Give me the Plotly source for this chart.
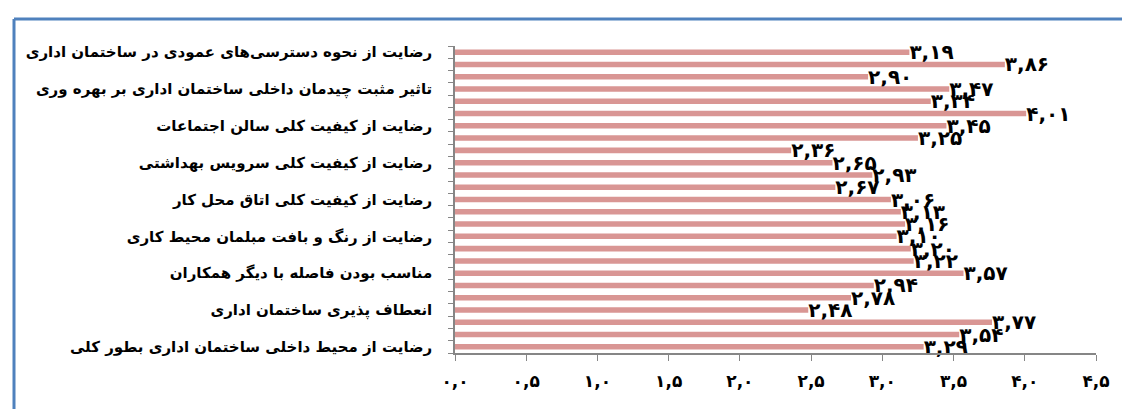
import plotly.graph_objects as go

# Category labels (shown on every third bar, top to bottom)
labels = [
    "رضایت از نحوه دسترسی‌های عمودی در ساختمان اداری",
    "تاثیر مثبت چیدمان داخلی ساختمان اداری بر بهره وری",
    "رضایت از کیفیت کلی سالن اجتماعات",
    "رضایت از کیفیت کلی سرویس بهداشتی",
    "رضایت از کیفیت کلی اتاق محل کار",
    "رضایت از رنگ و بافت مبلمان محیط کاری",
    "مناسب بودن فاصله با دیگر همکاران",
    "انعطاف پذیری ساختمان اداری",
    "رضایت از محیط داخلی ساختمان اداری بطور کلی",
]
label_every = 3

# Bar values, top to bottom
values = [3.19, 3.86, 2.90, 3.47, 3.34, 4.01, 3.45, 3.25, 2.36, 2.65,
          2.93, 2.67, 3.06, 3.13, 3.16, 3.10, 3.20, 3.22, 3.57, 2.94,
          2.78, 2.48, 3.77, 3.54, 3.29]

x_ticks = [0.0, 0.5, 1.0, 1.5, 2.0, 2.5, 3.0, 3.5, 4.0, 4.5]

FA = str.maketrans("0123456789", "۰۱۲۳۴۵۶۷۸۹")


def fa(v, nd):
    return f"{v:.{nd}f}".replace(".", ",").translate(FA)


positions = list(range(len(values)))
tick_pos = [i * label_every for i in range(len(labels))]

W, H = 1130, 409
L, R, T, B = 447, 42, 38, 64
pw, ph = W - L - R, H - T - B

fig = go.Figure()
fig.add_trace(go.Bar(
    x=values, y=positions, orientation="h",
    marker=dict(color="#D99694", line=dict(width=0)),
    width=0.45,
    text=[fa(v, 2) for v in values],
    textposition="outside",
    constraintext="none",
    textfont=dict(family="DejaVu Sans", size=20, color="black", weight="bold"),
    cliponaxis=False,
    hoverinfo="skip",
))

fig.update_layout(
    width=W, height=H,
    margin=dict(l=L, r=R, t=T, b=B),
    plot_bgcolor="white", paper_bgcolor="white",
    showlegend=False,
    xaxis=dict(
        range=[0, 4.5], tickmode="array", tickvals=x_ticks,
        ticktext=[fa(v, 1) for v in x_ticks],
        showgrid=False, zeroline=False,
        showline=True, linecolor="#868686", linewidth=1.5,
        ticks="outside", ticklen=6, tickcolor="#868686",
        tickfont=dict(family="DejaVu Sans", size=17, color="black", weight="bold"),
        ticklabelstandoff=6,
    ),
    yaxis=dict(
        range=[len(values) - 0.5, -0.5],
        tickmode="array", tickvals=tick_pos, ticktext=labels,
        showgrid=False, zeroline=False,
        showline=True, linecolor="#868686", linewidth=1.5,
        ticks="",
        minor=dict(ticks="outside", tickmode="linear", tick0=0.5, dtick=1,
                   ticklen=5, tickcolor="#868686", showgrid=False),
        tickfont=dict(family="DejaVu Sans", size=15, color="black", weight="bold"),
        ticklabelstandoff=18,
    ),
)


def px_x(p):
    return (p - L) / pw


def px_y(p):
    return 1 - (p - T) / ph


border = "#4F81BD"
fig.add_shape(type="line", xref="paper", yref="paper",
              x0=px_x(6), x1=px_x(W + 5), y0=px_y(11), y1=px_y(11),
              line=dict(color=border, width=3))
fig.add_shape(type="line", xref="paper", yref="paper",
              x0=px_x(6), x1=px_x(6), y0=px_y(11), y1=px_y(H + 5),
              line=dict(color=border, width=3))

fig.write_html("out.html")
